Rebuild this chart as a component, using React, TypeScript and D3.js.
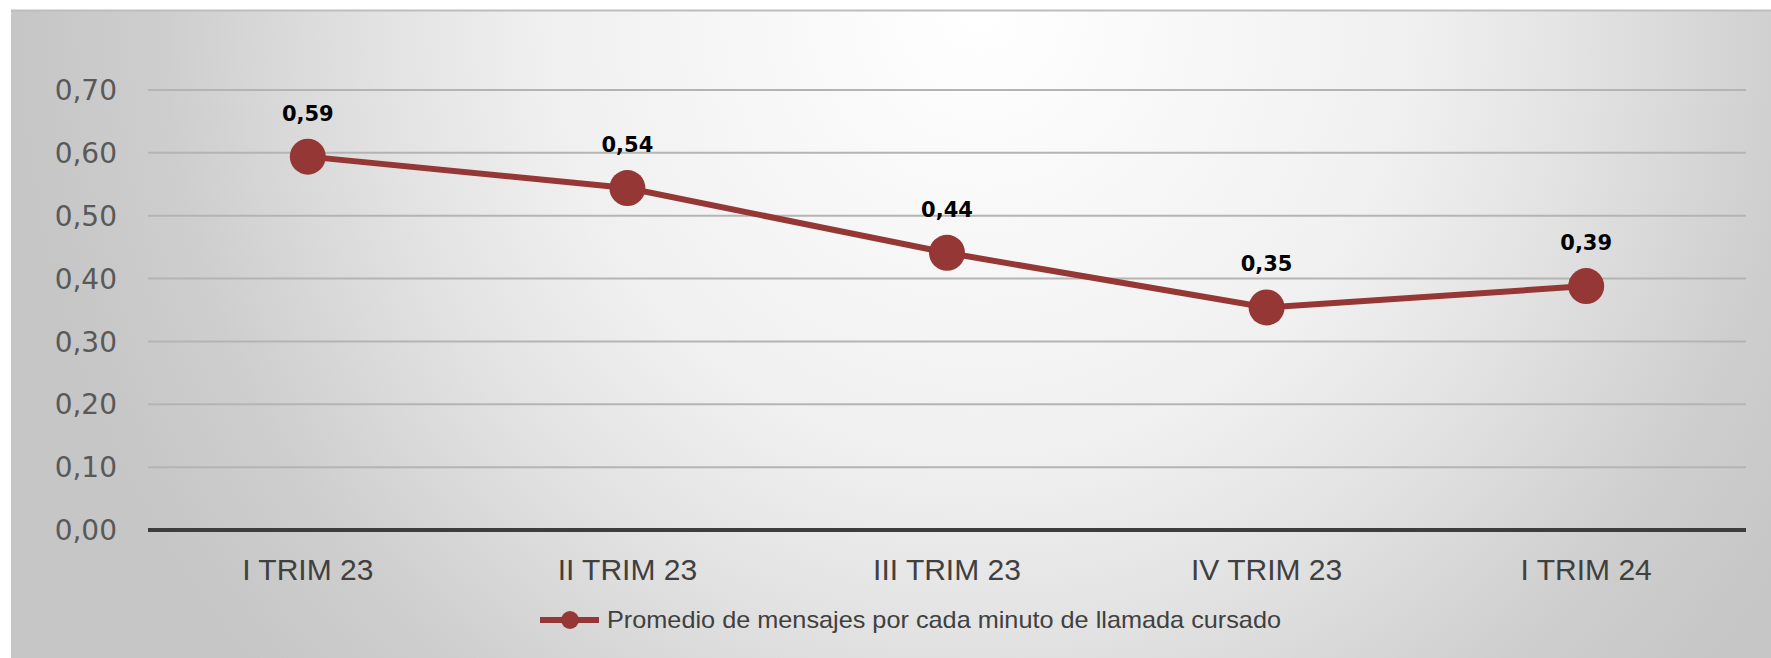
import React from "react";
import * as d3 from "d3";

// quarters on the x axis
const quarters = ["I TRIM 23", "II TRIM 23", "III TRIM 23", "IV TRIM 23", "I TRIM 24"];
// average messages per minute of call
const promedio = [0.594, 0.544, 0.441, 0.354, 0.388];
const yTicks = [0, 0.1, 0.2, 0.3, 0.4, 0.5, 0.6, 0.7];
const seriesName = "Promedio de mensajes por cada minuto de llamada cursado";

const W = 1771;
const H = 658;
const RED = "#953735";

const fmt = (v: number) => d3.format(".2f")(v).replace(".", ",");

const App = () => {
  const x = d3.scaleBand<string>().domain(quarters).range([148, 1746]);
  const y = d3.scaleLinear().domain([0, 0.7]).range([530, 90]);
  const cx = (q: string) => (x(q) as number) + x.bandwidth() / 2;

  const line = d3
    .line<number>()
    .x((_, i) => cx(quarters[i]))
    .y((d) => y(d));

  return (
    <svg
      width={W}
      height={H}
      style={{ position: "absolute", left: 0, top: 0, display: "block" }}
    >
      <defs>
        <radialGradient
          id="bg"
          gradientUnits="userSpaceOnUse"
          cx={0}
          cy={0}
          r={1}
          gradientTransform="translate(980,10) scale(960,1000)"
        >
          <stop offset="0" stopColor="#ffffff" />
          <stop offset="0.45" stopColor="#f0f0f0" />
          <stop offset="0.62" stopColor="#e3e3e3" />
          <stop offset="0.85" stopColor="#cecece" />
          <stop offset="1" stopColor="#c6c6c6" />
        </radialGradient>
      </defs>
      <rect x={0} y={0} width={W} height={H} fill="#ffffff" />
      <rect x={11} y={10} width={W - 11} height={H - 10} fill="url(#bg)" />
      <line x1={11} x2={W} y1={10.5} y2={10.5} stroke="#bdbdbd" strokeWidth={2} />

      {/* gridlines */}
      {yTicks.slice(1).map((t) => (
        <line key={t} x1={148} x2={1746} y1={y(t)} y2={y(t)} stroke="#b4b4b4" strokeWidth={2} />
      ))}
      <line x1={148} x2={1746} y1={y(0)} y2={y(0)} stroke="#3d3d3d" strokeWidth={4} />

      {/* y tick labels */}
      {yTicks.map((t) => (
        <text
          key={t}
          x={117}
          y={y(t)}
          dy="0.36em"
          textAnchor="end"
          fontFamily="'DejaVu Sans', sans-serif"
          fontSize={28}
          fill="#595959"
        >
          {fmt(t)}
        </text>
      ))}

      {/* x labels */}
      {quarters.map((q) => (
        <text
          key={q}
          x={cx(q)}
          y={580}
          textAnchor="middle"
          fontFamily="'Liberation Sans', Arial, sans-serif"
          fontSize={30}
          fill="#404040"
        >
          {q}
        </text>
      ))}

      {/* series */}
      <path d={line(promedio) || ""} fill="none" stroke={RED} strokeWidth={6} />
      {promedio.map((v, i) => (
        <g key={i}>
          <circle cx={cx(quarters[i])} cy={y(v)} r={18} fill={RED} />
          <text
            x={cx(quarters[i])}
            y={y(v) - 36}
            textAnchor="middle"
            fontFamily="'DejaVu Sans', sans-serif"
            fontWeight={700}
            fontSize={21}
            fill="#000000"
          >
            {fmt(v)}
          </text>
        </g>
      ))}

      {/* legend */}
      <line x1={540} x2={599} y1={620} y2={620} stroke={RED} strokeWidth={6} />
      <circle cx={570} cy={620} r={9} fill={RED} />
      <text
        x={607}
        y={628}
        fontFamily="'Liberation Sans Narrow', 'Liberation Sans', sans-serif"
        fontSize={24}
        fill="#404040"
        textLength={674}
        lengthAdjust="spacingAndGlyphs"
      >
        {seriesName}
      </text>
    </svg>
  );
};

export default App;
